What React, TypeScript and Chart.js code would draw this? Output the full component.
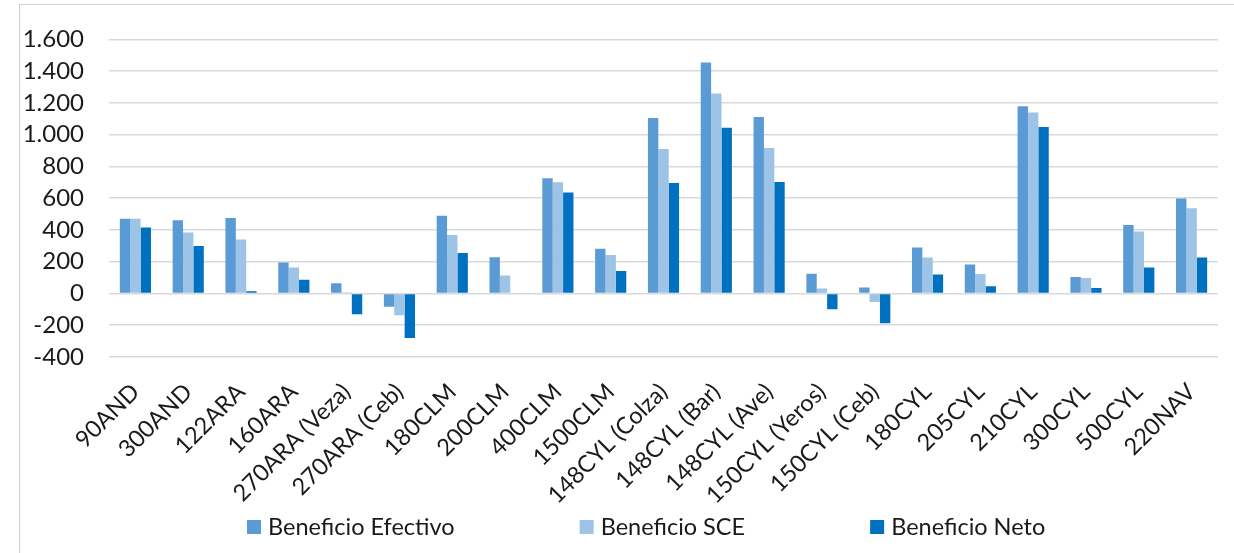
import React, { useEffect, useRef } from "react";
import { Chart, registerables } from "chart.js";

Chart.register(...registerables);

const categories = [
  "90AND", "300AND", "122ARA", "160ARA", "270ARA (Veza)", "270ARA (Ceb)",
  "180CLM", "200CLM", "400CLM", "1500CLM", "148CYL (Colza)", "148CYL (Bar)",
  "148CYL (Ave)", "150CYL (Yeros)", "150CYL (Ceb)", "180CYL", "205CYL",
  "210CYL", "300CYL", "500CYL", "220NAV",
];
const seriesNames = ["Beneficio Efectivo", "Beneficio SCE", "Beneficio Neto"];
const efectivo = [471, 461, 475, 195, 64, -83, 490, 228, 725, 282, 1105, 1455, 1111, 125, 37, 290, 183, 1179, 103, 432, 598];
const sce = [471, 384, 340, 164, 8, -137, 368, 114, 700, 243, 910, 1260, 916, 31, -54, 226, 122, 1140, 97, 390, 536];
const neto = [415, 299, 14, 87, -131, -280, 255, 0, 636, 141, 695, 1044, 702, -100, -187, 120, 45, 1049, 35, 164, 226];
const colors = ["#5B9BD5", "#9DC3E6", "#0070C0"];
const yMin = -400;
const yMax = 1600;
const yStep = 200;

const FONT = "Lato, 'Open Sans', sans-serif";

function fmt(v: number): string {
  const s = Math.abs(v).toString().replace(/\B(?=(\d{3})+(?!\d))/g, ".");
  return (v < 0 ? "-" : "") + s;
}

const legendPlugin = {
  id: "customLegend",
  afterDraw(chart: any) {
    const ctx = chart.ctx;
    ctx.save();
    ctx.font = `23.5px ${FONT}`;
    ctx.textBaseline = "alphabetic";
    ctx.textAlign = "left";
    const boxTop = 520;
    const baseline = 535;
    let x = 247;
    chart.data.datasets.forEach((ds: any) => {
      ctx.fillStyle = ds.backgroundColor;
      ctx.fillRect(x, boxTop, 14, 14);
      ctx.fillStyle = "#1a1a1a";
      ctx.fillText(ds.label, x + 21, baseline);
      x += 21 + ctx.measureText(ds.label).width + 125;
    });
    ctx.restore();
  },
};

export default function App() {
  const ref = useRef<HTMLCanvasElement>(null);
  useEffect(() => {
    if (!ref.current) return;
    const data = [efectivo, sce, neto];
    const chart = new Chart(ref.current, {
      type: "bar",
      data: {
        labels: categories,
        datasets: seriesNames.map((name, i) => ({
          label: name,
          data: data[i],
          backgroundColor: colors[i],
          borderWidth: 0,
          categoryPercentage: 0.59,
          barPercentage: 1,
        })),
      },
      options: {
        animation: false,
        responsive: true,
        maintainAspectRatio: false,
        layout: { padding: { top: 36, right: 16, left: 0, bottom: 0 } },
        plugins: {
          legend: { display: false },
          tooltip: { enabled: false },
        },
        scales: {
          x: {
            grid: { display: false },
            border: { display: false },
            ticks: {
              autoSkip: false,
              maxRotation: 45,
              minRotation: 45,
              padding: 13,
              color: "#1a1a1a",
              font: { family: FONT, size: 23.5 },
            },
            afterFit(scale: any) {
              scale.height = 196;
            },
          },
          y: {
            min: yMin,
            max: yMax,
            grid: { color: "#d9d9d9", lineWidth: 1.5, drawTicks: false },
            border: { display: false },
            ticks: {
              stepSize: yStep,
              autoSkip: false,
              padding: 25,
              color: "#1a1a1a",
              font: { family: FONT, size: 24 },
              callback: (v: any) => fmt(Number(v)),
            },
            afterFit(scale: any) {
              scale.width = 109;
            },
          },
        },
      },
      plugins: [legendPlugin],
    });
    return () => chart.destroy();
  }, []);

  return (
    <div style={{ position: "fixed", left: 0, top: 0, width: 1234, height: 553, background: "#fff", overflow: "hidden" }}>
      <div style={{ position: "absolute", left: 19, top: 4, width: 1300, height: 700, border: "1.5px solid #d0d0d0", boxSizing: "border-box" }} />
      <canvas ref={ref} style={{ position: "absolute", left: 0, top: 0 }} />
    </div>
  );
}
